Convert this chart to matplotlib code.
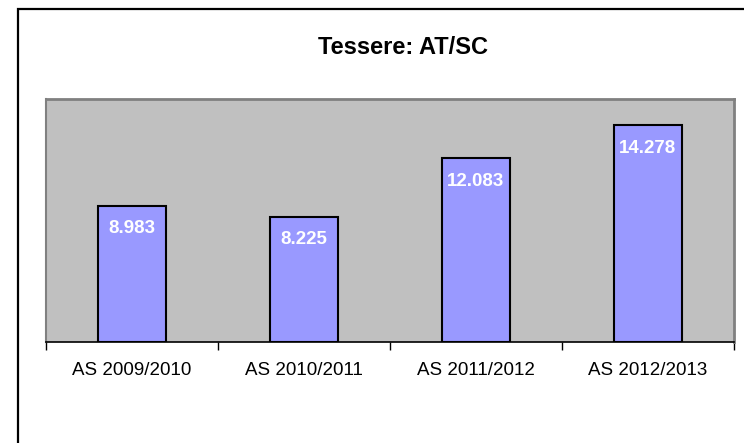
import matplotlib
matplotlib.use("Agg")
import matplotlib.pyplot as plt
from matplotlib.patches import Rectangle

categories = ["AS 2009/2010", "AS 2010/2011", "AS 2011/2012", "AS 2012/2013"]
values = [8.983, 8.225, 12.083, 14.278]
labels = ["8.983", "8.225", "12.083", "14.278"]
title = "Tessere: AT/SC"

plt.rcParams['font.family'] = ['Liberation Sans', 'DejaVu Sans']

W, H = 744, 443
fig = plt.figure(figsize=(W / 100, H / 100), dpi=100)
fig.patch.set_facecolor("white")

# outer chart frame (cropped on right and bottom)
fig.patches.append(Rectangle((18 / W, -0.1), 1.0, (H - 9) / H + 0.1, transform=fig.transFigure,
                             fill=False, edgecolor="black", linewidth=1.6, zorder=0))

left, right, top, bottom = 46, 734, 99, 342
ax = fig.add_axes([left / W, 1 - bottom / H, (right - left) / W, (bottom - top) / H])
ax.set_facecolor("#C0C0C0")

x = list(range(len(categories)))
bars = ax.bar(x, values, width=0.4, color="#9999FF", edgecolor="black", linewidth=1.5, zorder=3)
ax.set_xlim(-0.5, len(categories) - 0.5)
ax.set_ylim(0, 16)

for xi, v, lab in zip(x, values, labels):
    ax.annotate(lab, (xi, v), xytext=(0, -16.5), textcoords="offset points", ha="center", va="center",
                color="white", fontweight="bold", fontsize=13.5, zorder=4)

ax.set_yticks([])
ax.set_xticks(x)
ax.set_xticklabels(categories, fontsize=13.5)
ax.tick_params(axis="x", length=0, pad=14.5)
ax.set_xticks([i - 0.5 for i in range(len(categories) + 1)], minor=True)
ax.tick_params(axis="x", which="minor", length=6, width=1, color="black")

for s in ["top", "right"]:
    ax.spines[s].set_color("#808080")
    ax.spines[s].set_linewidth(2)
ax.spines["left"].set_color("#808080")
ax.spines["left"].set_linewidth(1.5)
ax.spines["bottom"].set_color("black")
ax.spines["bottom"].set_linewidth(1.2)

fig.text(403 / W, 1 - 48 / H, title, ha="center", va="center", fontsize=17, fontweight="bold")

fig.savefig("out.png", dpi=100)
